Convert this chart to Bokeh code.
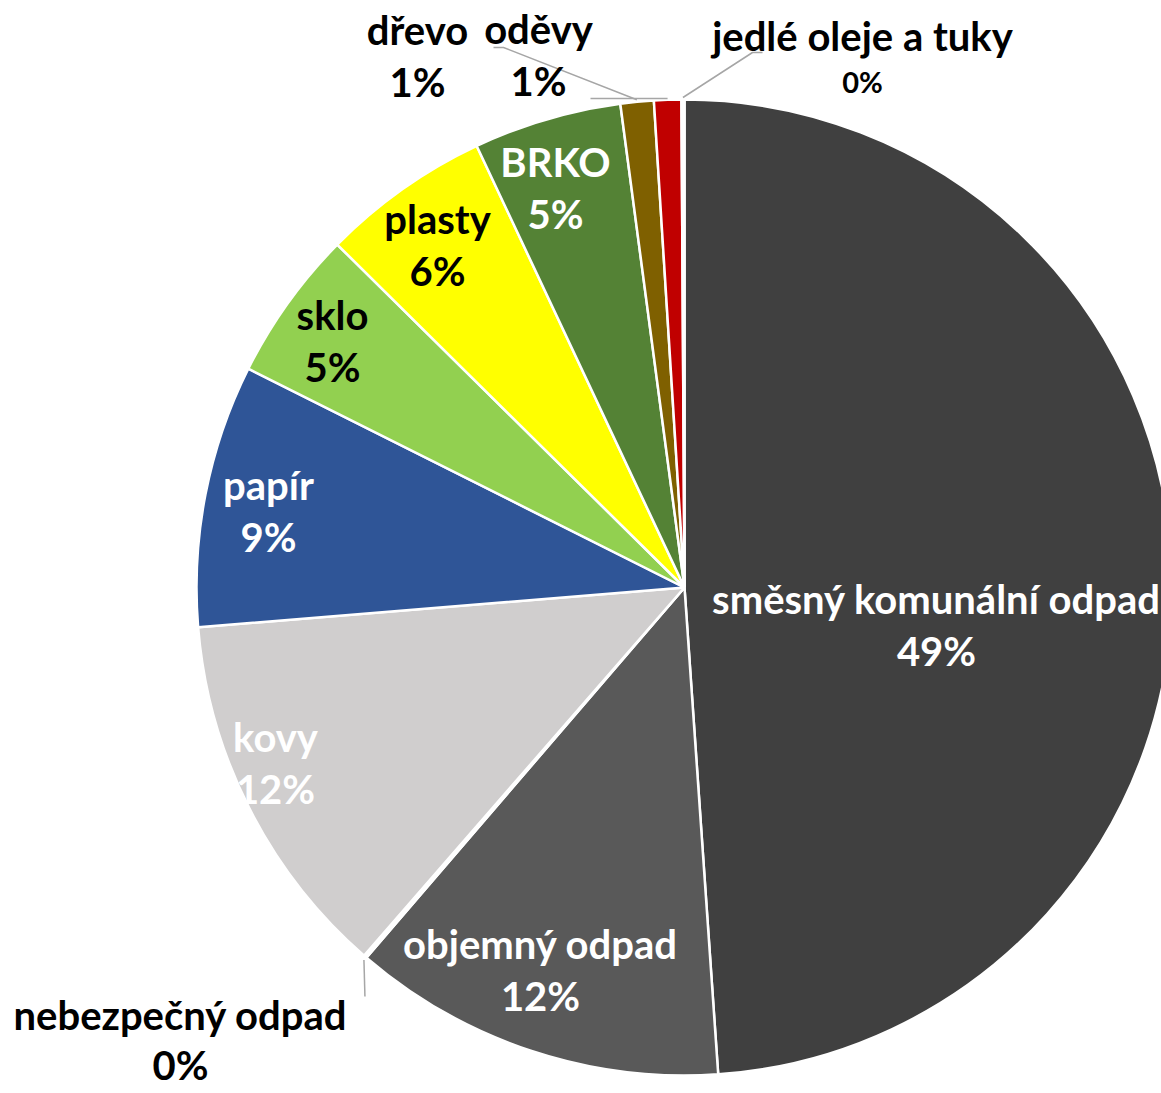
import numpy as np
from bokeh.plotting import figure
from bokeh.models import Range1d, ColumnDataSource
from bokeh.core.properties import value
from bokeh.embed import file_html
from bokeh.resources import INLINE

# ---- data ----
categories = ["směsný komunální odpad", "objemný odpad", "nebezpečný odpad", "kovy",
              "papír", "sklo", "plasty", "BRKO", "dřevo", "oděvy", "jedlé oleje a tuky"]
shares = [48.9, 12.4, 0.1, 12.3, 8.7, 5.0, 5.6, 4.9, 1.1, 0.9, 0.1]

# ---- styles / layout ----
colors = ["#404040", "#595959", "#FFFFFF", "#D0CECE", "#2F5597", "#92D050",
          "#FFFF00", "#548235", "#7F6000", "#C00000", "#FFFFFF"]
text_colors = ["white", "white", "black", "white", "white", "black",
               "black", "white", "black", "black", "black"]
# label centre offsets from pie centre (px, y down)
label_dx = [252, -144, -504, -409, -416, -352, -247, -129, -267, -146, 178]
label_dy = [37, 382, 453, 175, -77, -247, -343, -400, -532, -533, -526]
pct_sizes = ["40px"] * 10 + ["29px"]
pct_gap = [52, 52, 50] + [52] * 7 + [46]

W, H = 1161, 1093
CX, CY = 684, 587          # pie centre in page px
R = 488
FONT = value("Lato")

def Y(py):
    return H - py

p = figure(width=W, height=H, output_backend="svg", toolbar_location=None,
           x_range=Range1d(0, W), y_range=Range1d(0, H), min_border=0)
p.axis.visible = False
p.grid.visible = False
p.outline_line_color = None
p.background_fill_color = "white"
p.border_fill_color = "white"

vals = np.array(shares, dtype=float)
frac = vals / vals.sum()
cum = np.concatenate([[0.0], np.cumsum(frac)])
start = np.pi / 2 - 2 * np.pi * cum[:-1]
end = np.pi / 2 - 2 * np.pi * cum[1:]

src = ColumnDataSource(dict(start=start, end=end, color=colors))
p.wedge(x=CX, y=Y(CY), radius=R, start_angle="start", end_angle="end",
        direction="clock", fill_color="color", line_color="white", line_width=2.5,
        source=src)

# leader lines for outside labels
mid = 2 * np.pi * (cum[:-1] + cum[1:]) / 2   # clockwise from top
def rim(i, rr=R + 2):
    return CX + rr * np.sin(mid[i]), CY - rr * np.cos(mid[i])

idx = {c: i for i, c in enumerate(categories)}
lx, ly = [], []
x0, y0 = rim(idx["dřevo"]); lx.append([x0, 503, 493]); ly.append([Y(y0), Y(47), Y(47)])
x0, y0 = rim(idx["oděvy"]); lx.append([x0, 590]); ly.append([Y(98), Y(98)])
x0, y0 = rim(idx["jedlé oleje a tuky"]); lx.append([x0, 752, 762]); ly.append([Y(y0), Y(52), Y(52)])
x0, y0 = rim(idx["nebezpečný odpad"]); lx.append([x0, x0 + 1]); ly.append([Y(y0 + 2), Y(996)])
p.multi_line(xs=lx, ys=ly, line_color="#A6A6A6", line_width=1.5)

# labels
pcts = [f"{int(round(v))}%" for v in vals]
nx = [CX + dx for dx in label_dx]
ny = [Y(CY + dy - 26) for dy in label_dy]
py_ = [Y(CY + dy - 26 + g) for dy, g in zip(label_dy, pct_gap)]
lsrc = ColumnDataSource(dict(x=nx, yn=ny, yp=py_, name=categories, pct=pcts,
                             tc=text_colors, ps=pct_sizes))
p.text(x="x", y="yn", text="name", text_color="tc", text_font=FONT,
       text_font_size="40px", text_font_style="bold", text_align="center",
       text_baseline="middle", source=lsrc)
p.text(x="x", y="yp", text="pct", text_color="tc", text_font=FONT,
       text_font_size="ps", text_font_style="bold", text_align="center",
       text_baseline="middle", source=lsrc)

open("out.html", "w").write(file_html(p, INLINE))
